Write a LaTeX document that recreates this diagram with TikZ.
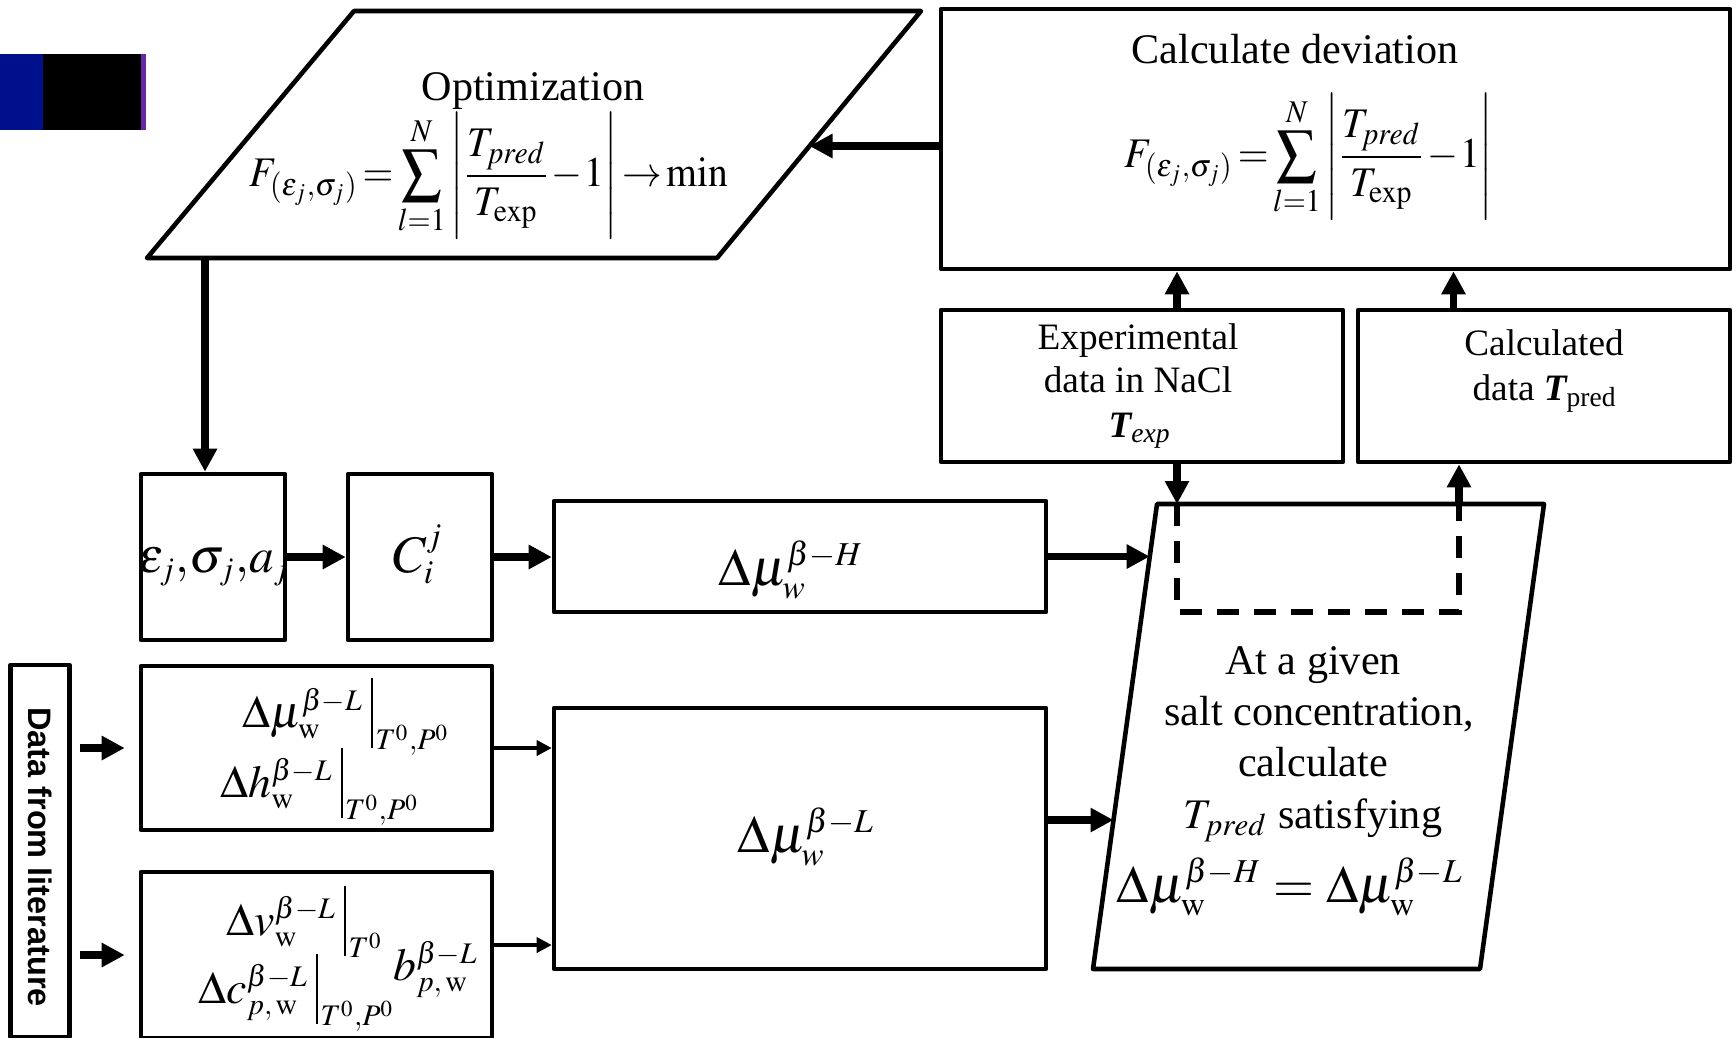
\documentclass[tikz,border=0pt]{standalone}
\usepackage{mathptmx}
\usepackage{graphicx}
\usepackage[no-math]{fontspec}
\setmainfont{Liberation Serif}
\newfontfamily\litfont{Liberation Sans}
\usetikzlibrary{arrows.meta,calc}
\DeclareMathSizes{15}{15}{9.5}{7}
\DeclareMathSizes{14}{14}{9}{6.5}
\DeclareMathSizes{13}{13}{8.5}{6.5}
\definecolor{rblue}{RGB}{0,16,140}
\definecolor{rpurple}{RGB}{104,40,164}
\newcommand{\tightmath}{\thickmuskip=2mu\medmuskip=1mu}
\newcommand{\evb}{{\mkern3mu\vrule height 14pt depth 6pt width 0.5pt\mkern1mu}}
\begin{document}
\begin{tikzpicture}[x=0.1mm,y=-0.1mm,
  box/.style={draw,line width=1.3pt,line join=round,inner sep=0pt,fill=white},
  frame/.style={draw,line width=1.3pt,line join=round},
  lbl/.style={inner sep=0pt,anchor=base,font=\fontsize{12}{14}\selectfont},
  slbl/.style={inner sep=0pt,anchor=base,font=\fontsize{10.6}{13}\selectfont},
  fml/.style={inner sep=0pt,anchor=base,font=\fontsize{15}{18}\selectfont},
  mfml/.style={inner sep=0pt,anchor=base,font=\fontsize{14}{17}\selectfont},
  sfml/.style={inner sep=0pt,anchor=base west,font=\fontsize{13}{16}\selectfont},
  bigf/.style={inner sep=0pt,font=\fontsize{12}{14}\selectfont},
  arr/.style={line width=2.2pt,-{Triangle[length=2.3mm,width=2.3mm]}},
  thinarr/.style={line width=1pt,-{Triangle[length=1.5mm,width=1.5mm]}},
  dashline/.style={line width=1.6pt,dash pattern=on 2.2mm off 1.5mm}
]
\useasboundingbox (0,0) rectangle (1736,1037);
\clip (0,0) rectangle (1736,1037);
\fill[white] (0,0) rectangle (1736,1037);
% logo bar
\fill[rblue] (0,54) rectangle (43,130);
\fill[black] (43,54) rectangle (141,130);
\fill[rpurple] (141,54) rectangle (146,130);

% optimization parallelogram
\coordinate (oTL) at (354,11);
\coordinate (oTR) at (921,11);
\coordinate (oBR) at (717,258);
\coordinate (oBL) at (147,258);
\draw[frame] (oTL)--(oTR)--(oBR)--(oBL)--cycle;
\coordinate (oIn) at (809.5,146);
\coordinate (oOut) at (205,258);

% satisfying parallelogram
\coordinate (sTL) at (1157,504);
\coordinate (sTR) at (1544,504);
\coordinate (sBR) at (1480,969);
\coordinate (sBL) at (1093,969);
\draw[frame] (sTL)--(sTR)--(sBR)--(sBL)--cycle;
\coordinate (sIn1) at (1149.7,556.5);
\coordinate (sIn2) at (1113.5,820);
\coordinate (sDn) at (1177,504);
\coordinate (sUp) at (1459,504);
\coordinate (dA) at (1177,612);
\coordinate (dB) at (1459,612);

% boxes
\node[box,minimum width=78.9mm,minimum height=26mm] (calc) at (1335.5,139) {};
\node[box,minimum width=40.2mm,minimum height=15.2mm] (exp) at (1142,386) {};
\node[box,minimum width=37.2mm,minimum height=15.2mm] (cald) at (1544,386) {};
\node[box,minimum width=14.4mm,minimum height=16.6mm] (eps) at (213,557) {};
\node[box,minimum width=14.4mm,minimum height=16.6mm] (cij) at (420,557) {};
\node[box,minimum width=49.2mm,minimum height=11.1mm] (muH) at (800,556.5) {};
\node[box,minimum width=5.9mm,minimum height=37.2mm] (lit) at (40,851) {};
\node[box,minimum width=35.1mm,minimum height=16.4mm] (b16) at (316.5,748) {};
\node[box,minimum width=35.1mm,minimum height=16.6mm] (b17) at (316.5,955) {};
\node[box,minimum width=49.2mm,minimum height=26.1mm] (muL) at (800,838.5) {};

% texts
\node[lbl] (optT) at (533,100) {Optimization};
\node[bigf] (optF) at (489,176) {\scalebox{0.94}[1]{$\tightmath\displaystyle F_{(\varepsilon_j,\sigma_j)}=\sum_{l=1}^{N}\left|\vrule height 21pt depth 14pt width 0pt\frac{T_{pred}}{T_{\mathrm{exp}}}-1\right|\rightarrow\mathrm{min}$}};
\node[lbl] (calcT) at (1295,63) {Calculate deviation};
\node[bigf] (calcF) at (1309,157) {\scalebox{0.94}[1]{$\tightmath\displaystyle F_{(\varepsilon_j,\sigma_j)}=\sum_{l=1}^{N}\left|\vrule height 21pt depth 14pt width 0pt\frac{T_{pred}}{T_{\mathrm{exp}}}-1\right|$}};
\node[slbl] (expT1) at (1138,349) {Experimental};
\node[slbl] (expT2) at (1138,392) {data in NaCl};
\node[slbl] (expT3) at (1140,437) {{\bfseries\itshape T}\textsubscript{\itshape exp}};
\node[slbl] (caldT1) at (1544,355) {Calculated};
\node[slbl] (caldT2) at (1545,400) {data {\bfseries\itshape T}\textsubscript{pred}};
\node[mfml] (epsT) at (214,572) {$\varepsilon_j{,}\sigma_j{,}a_j$};
\node[fml] (cijT) at (418,572) {$C_i^j$};
\node[fml] (muHT) at (791,585) {$\Delta\mu_w^{\beta{-}H}$};
\node[fml] (muLT) at (806,852) {$\Delta\mu_w^{\beta{-}L}$};
\node[sfml] (b16a) at (242,727) {$\Delta\mu_{\mathrm{w}}^{\beta{-}L}\evb_{T^0,P^0}$};
\node[sfml] (b16b) at (220,797) {$\Delta h_{\mathrm{w}}^{\beta{-}L}\evb_{T^0,P^0}$};
\node[sfml] (b17a) at (226,935) {$\Delta v_{\mathrm{w}}^{\beta{-}L}\evb_{T^0}$};
\node[sfml] (b17b) at (198,1003) {$\Delta c_{p,\,\mathrm{w}}^{\beta{-}L}\evb_{T^0,P^0}$};
\node[sfml] (b17c) at (393,980) {$b_{p,\,\mathrm{w}}^{\beta{-}L}$};
\node[rotate=-90,inner sep=0pt,font=\litfont\bfseries\fontsize{9.25}{11}\selectfont] (litT) at (40,857) {Data from literature};
\node[lbl] (s1) at (1313,674) {At a given};
\node[lbl] (s2) at (1319,725) {salt concentration,};
\node[lbl] (s3) at (1313,776) {calculate};
\node[lbl] (s4) at (1313,828) {$T_{pred}$ satisfying};
\node[fml] (s5) at (1290,902) {$\Delta\mu_{\mathrm{w}}^{\beta{-}H}=\Delta\mu_{\mathrm{w}}^{\beta{-}L}$};

% connectors
\draw[arr] (calc.west |- oIn) -- (oIn);
\draw[arr] (oOut) -- (oOut |- eps.north);
\draw[arr] (eps.east) -- (cij.west);
\draw[arr] (cij.east) -- (muH.west |- cij.east);
\draw[arr] (muH.east) -- (sIn1);
\draw[arr] (muL.east |- sIn2) -- (sIn2);
\draw[arr] ([xshift=0.8mm]lit.east |- b16.west) -- ([xshift=-1.4mm]b16.west);
\draw[arr] ([xshift=0.8mm]lit.east |- b17.west) -- ([xshift=-1.4mm]b17.west);
\draw[thinarr] (b16.east) -- (b16.east -| muL.west);
\draw[thinarr] ([yshift=1mm]b17.east) -- ([yshift=1mm]b17.east -| muL.west);
\draw[arr] ([xshift=3.5mm]exp.north) -- ([xshift=3.5mm]exp.north |- calc.south);
\draw[arr] ([xshift=-9.05mm]cald.north) -- ([xshift=-9.05mm]cald.north |- calc.south);
\draw[arr] (exp.south -| sDn) -- (sDn);
\draw[arr] (sUp) -- (sUp |- cald.south);
\draw[dashline] (sDn) -- (dA) -- (dB) -- (sUp);
\end{tikzpicture}
\end{document}
